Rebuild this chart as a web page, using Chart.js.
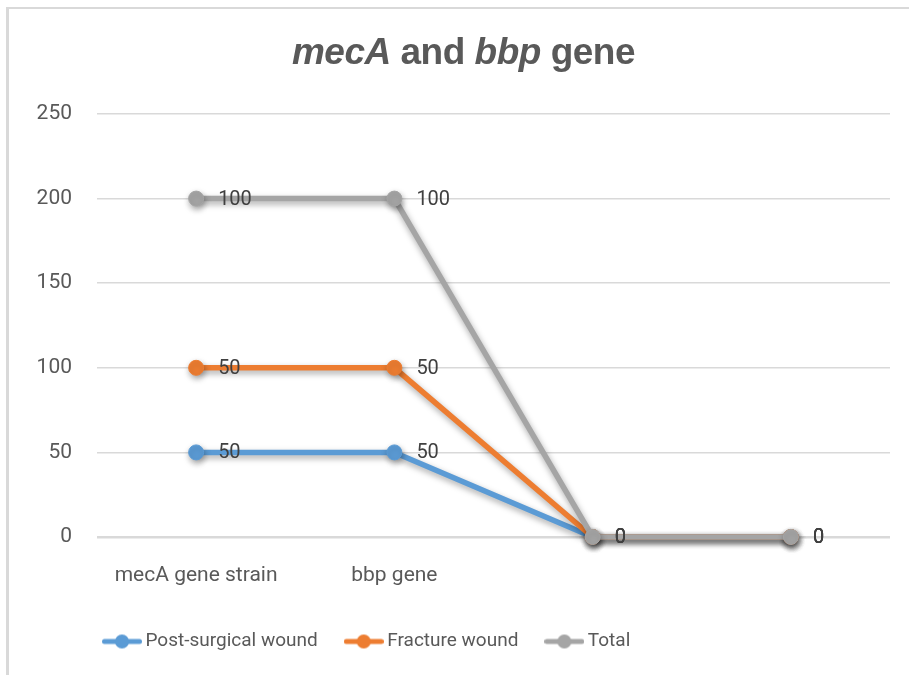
<!DOCTYPE html>
<html>
<head>
<meta charset="utf-8">
<script src="https://cdn.jsdelivr.net/npm/chart.js@4/dist/chart.umd.min.js"></script>
<style>
  html, body { margin: 0; padding: 0; background: #fff; }
  #wrap { position: relative; width: 909px; height: 675px; overflow: hidden; }
  #frame { position: absolute; left: 6px; top: 7px; width: 1000px; height: 1000px;
           border-left: 3px solid #d9d9d9; border-top: 2px solid #d9d9d9; }
  #title { position: absolute; left: 0; width: 927px; top: 33px; text-align: center;
           font: bold 37px/37px "Liberation Sans", Arial, sans-serif; letter-spacing: -0.5px; color: #595959; }
  #chart { position: absolute; left: 0; top: 0; }
</style>
</head>
<body>
<div id="wrap">
  <div id="frame"></div>
  <canvas id="chart" width="909" height="675"></canvas>
  <div id="title"><i>mecA</i> and <i>bbp</i> gene</div>
</div>
<script>
// données (courbes empilées, étiquettes = valeurs brutes)
const categories = ['mecA gene strain', 'bbp gene', '', ''];
const postSurgical = [50, 50, 0, 0];
const fractureWound = [50, 50, 0, 0];
const totalWound = [100, 100, 0, 0];
const yTicks = [0, 50, 100, 150, 200, 250];

const seriesNames = ['Post-surgical wound', 'Fracture wound', 'Total'];
const seriesColors = ['#5b9bd5', '#ed7d31', '#a5a5a5'];

// petit symbole ligne + rond pour la légende
function legendMarker(color) {
  const c = document.createElement('canvas');
  c.width = 40; c.height = 16;
  const g = c.getContext('2d');
  g.strokeStyle = color; g.lineWidth = 5; g.lineCap = 'round';
  g.beginPath(); g.moveTo(2.5, 8); g.lineTo(37.5, 8); g.stroke();
  g.fillStyle = color;
  g.beginPath(); g.arc(20, 8, 7, 0, Math.PI * 2); g.fill();
  return c;
}
const markers = seriesColors.map(legendMarker);

// dessine les séries dans l'ordre (Total au-dessus), avec ombre, puis les étiquettes
const drawPlugin = {
  id: 'drawPlugin',
  beforeDatasetDraw() { return false; },
  afterDatasetsDraw(chart) {
    const ctx = chart.ctx;
    chart.data.datasets.forEach((ds, i) => {
      const meta = chart.getDatasetMeta(i);
      ctx.save();
      ctx.shadowColor = 'rgba(0,0,0,0.35)';
      ctx.shadowBlur = 6;
      ctx.shadowOffsetX = 1;
      ctx.shadowOffsetY = 3;
      meta.controller.draw();
      ctx.restore();
    });
    ctx.save();
    ctx.font = '20px Roboto';
    ctx.fillStyle = '#404040';
    ctx.textBaseline = 'middle';
    chart.data.datasets.forEach((ds, i) => {
      chart.getDatasetMeta(i).data.forEach((pt, j) => {
        ctx.fillText(String(ds.data[j]), pt.x + 22, pt.y + 1);
      });
    });
    ctx.restore();
  },
  afterLayout(chart) {
    // légende décalée vers la gauche comme dans l'original
    const lg = chart.legend;
    const w = lg.right - lg.left;
    lg.left = 76;
    lg.right = lg.left + w;
  }
};

const data = [postSurgical, fractureWound, totalWound];

new Chart(document.getElementById('chart').getContext('2d'), {
  type: 'line',
  data: {
    labels: categories,
    datasets: data.map((vals, i) => ({
      label: seriesNames[i],
      data: vals,
      borderColor: seriesColors[i],
      backgroundColor: seriesColors[i],
      borderWidth: 5.5,
      pointRadius: 7.5,
      pointBorderWidth: 1,
      pointBackgroundColor: seriesColors[i],
      pointBorderColor: seriesColors[i],
      tension: 0,
      fill: false
    }))
  },
  options: {
    responsive: false,
    animation: false,
    layout: { padding: { left: 10, right: 19, top: 114, bottom: 14 } },
    plugins: {
      title: { display: false },
      tooltip: { enabled: false },
      legend: {
        position: 'bottom',
        align: 'start',
        labels: {
          usePointStyle: true,
          pointStyleWidth: 28,
          padding: 32,
          color: '#595959',
          font: { family: 'Roboto', size: 19 },
          generateLabels(chart) {
            const items = Chart.defaults.plugins.legend.labels.generateLabels(chart);
            items.forEach((it, i) => { it.pointStyle = markers[i]; });
            return items;
          }
        }
      }
    },
    scales: {
      x: {
        offset: true,
        grid: { display: false, drawTicks: false },
        border: { display: false },
        ticks: { color: '#595959', font: { family: 'Roboto', size: 21 }, padding: 26, maxRotation: 0, autoSkip: false },
        afterFit(scale) { scale.height = 63; }
      },
      y: {
        stacked: true,
        min: yTicks[0],
        max: yTicks[yTicks.length - 1],
        grid: {
          drawTicks: false,
          color: '#d9d9d9',
          lineWidth: ctx => (ctx.tick && ctx.tick.value === 0 ? 2.5 : 1.5)
        },
        border: { display: false },
        ticks: { stepSize: 50, color: '#595959', font: { family: 'Roboto', size: 21 }, padding: 25 },
        afterFit(scale) { scale.width = 87; }
      }
    }
  },
  plugins: [drawPlugin]
});
</script>
</body>
</html>
